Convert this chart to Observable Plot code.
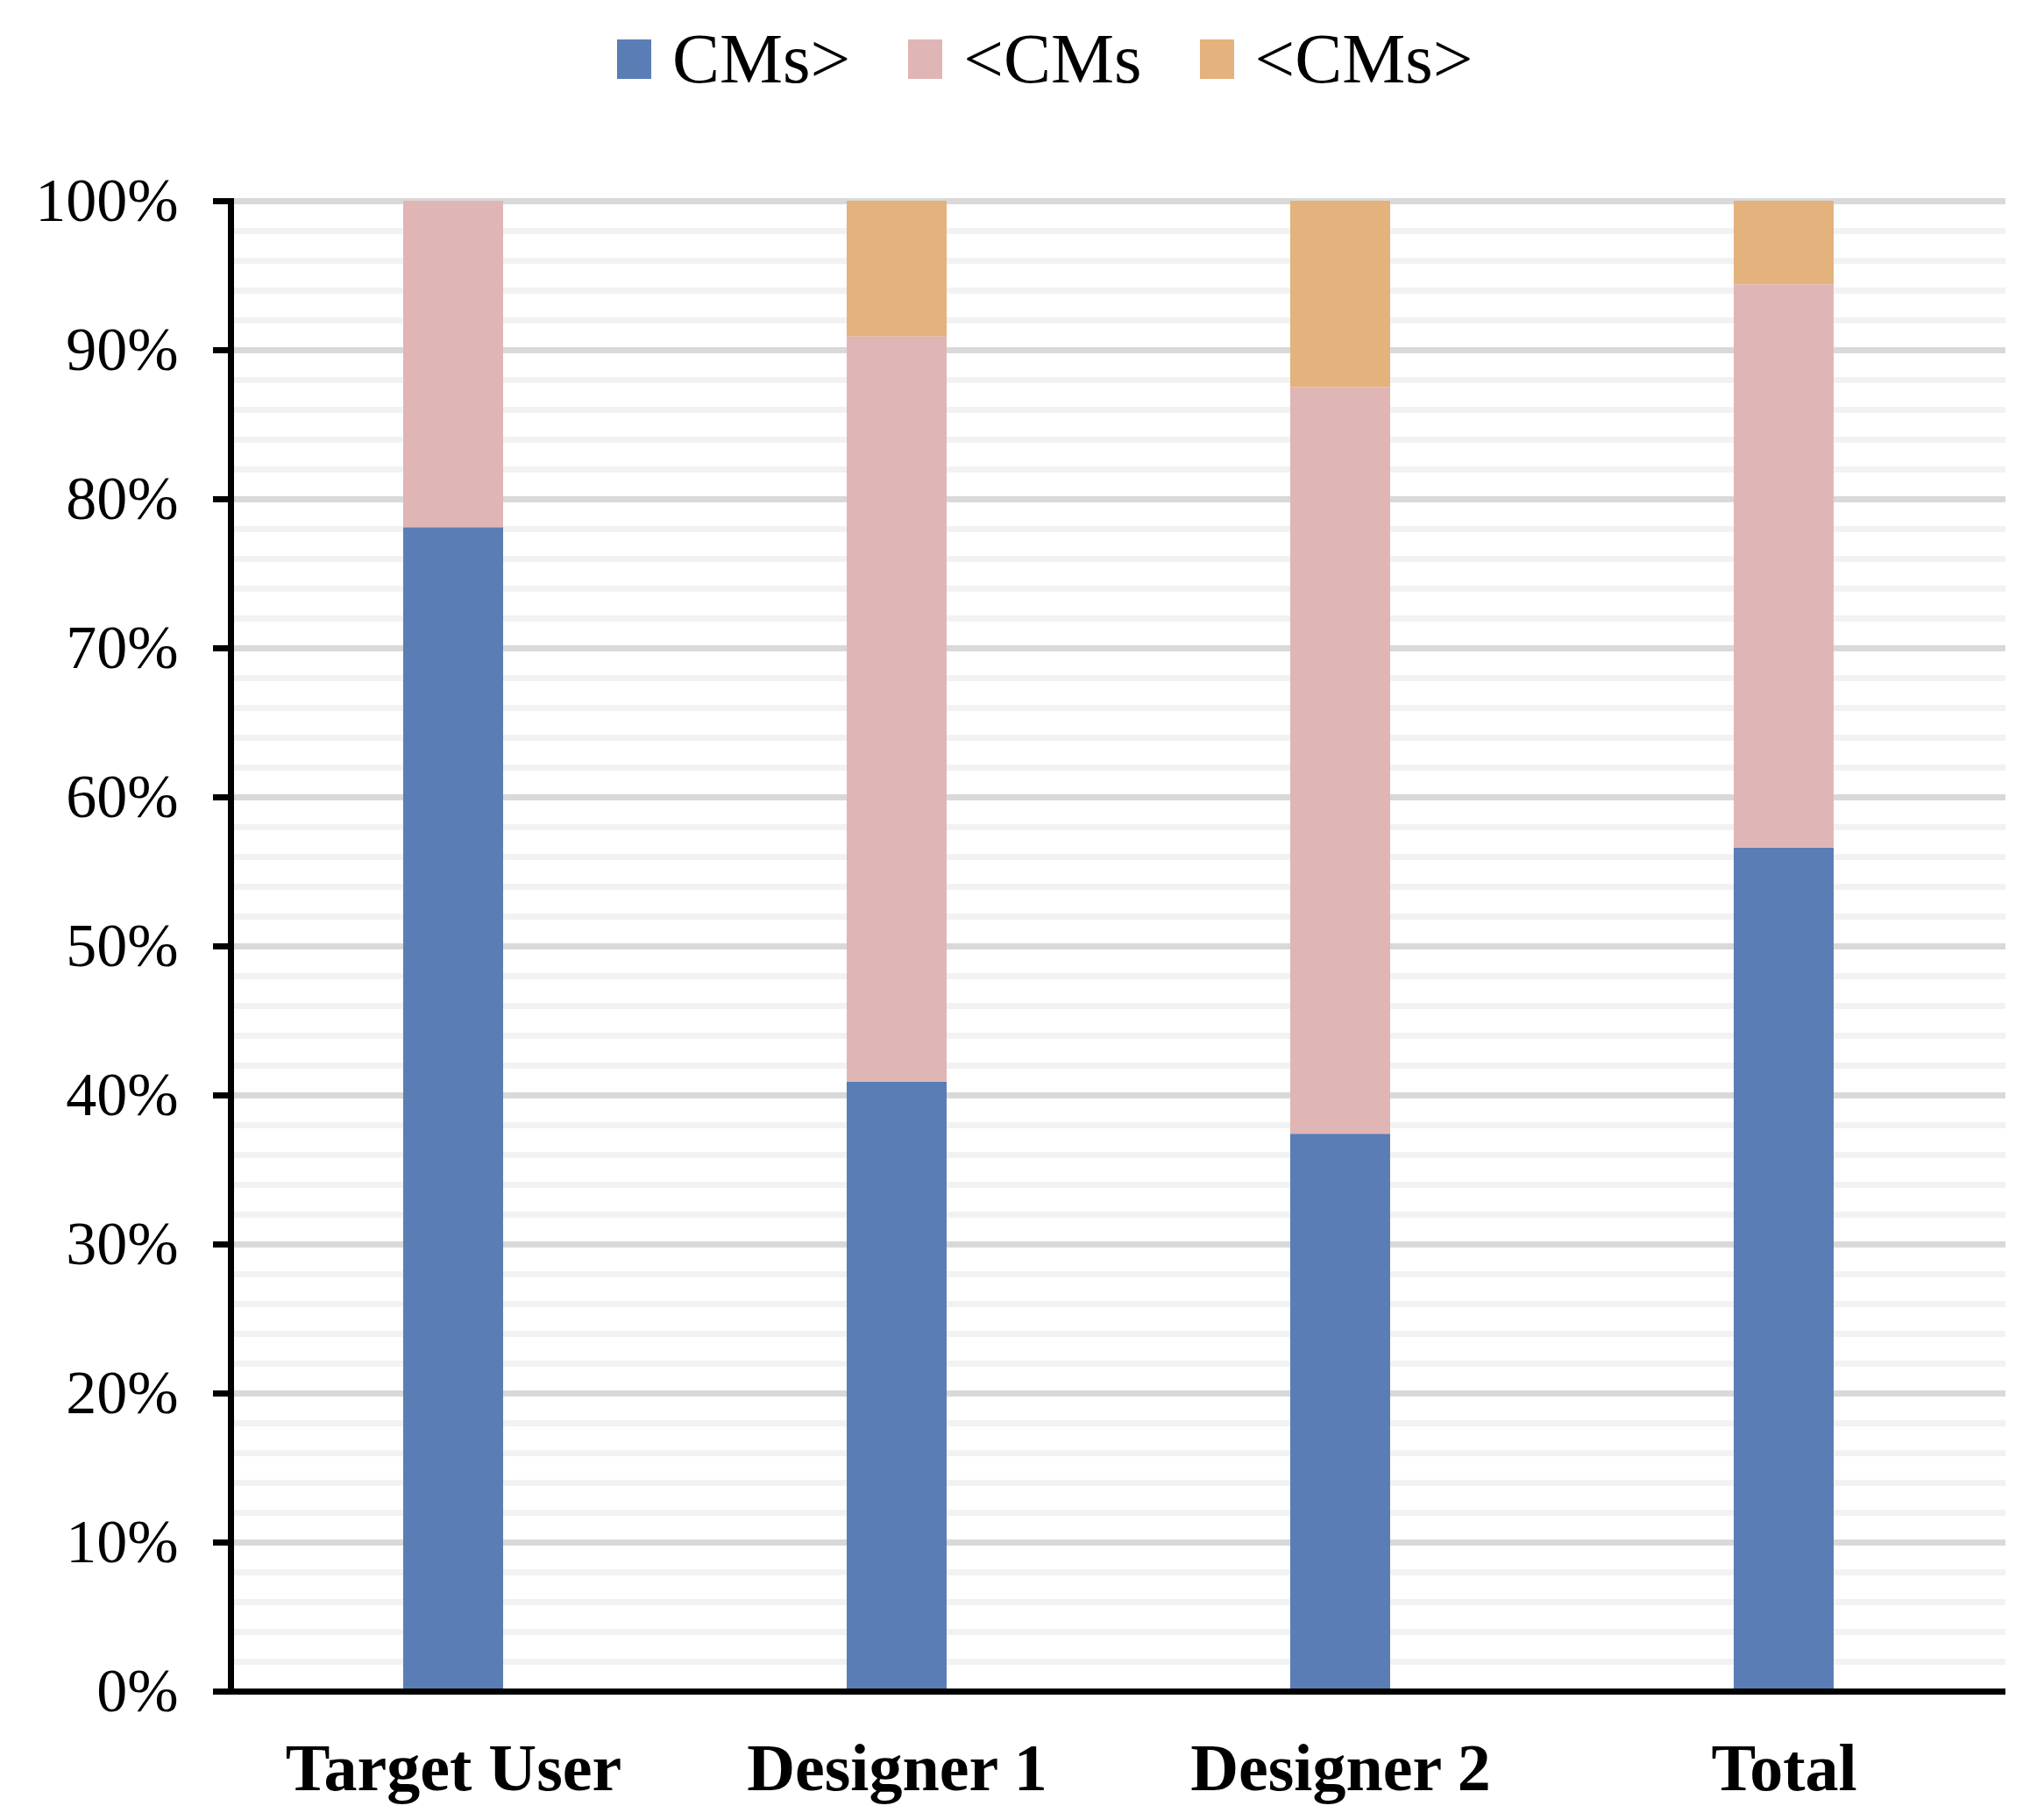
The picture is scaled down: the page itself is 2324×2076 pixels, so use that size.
<!DOCTYPE html>
<html><head><meta charset="utf-8">
<script src="https://cdn.jsdelivr.net/npm/d3@7"></script>
<script src="https://cdn.jsdelivr.net/npm/@observablehq/plot@0.6"></script>
<style>
html,body{margin:0;padding:0;background:#fff;width:2324px;height:2076px;overflow:hidden}
#legend{height:134px;display:flex;align-items:center;padding-left:704px;font-family:"Liberation Serif","Times New Roman",serif;font-size:81px;color:#000}
.item{display:flex;align-items:center;margin-right:66px}
.sw{width:39px;height:45px;margin-right:24px}
</style></head><body>
<div id="legend"></div>
<div id="chart"></div>
<script>
// Data (percent of each category)
const categories = ["Target User", "Designer 1", "Designer 2", "Total"];
const seriesNames = ["CMs>", "<CMs", "<CMs>"];
const seriesColors = ["#5b7db5", "#e0b5b6", "#e3b27d"];
const valuesCMsAfter = [78.1, 40.9, 37.4, 56.6];
const valuesCMsBefore = [21.9, 50.0, 50.1, 37.8];
const valuesCMsBoth = [0, 9.1, 12.5, 5.6];
const yTicks = [0, 10, 20, 30, 40, 50, 60, 70, 80, 90, 100];
const yMinorTicks = [0, 2, 4, 6, 8, 10, 12, 14, 16, 18, 20, 22, 24, 26, 28, 30, 32, 34, 36, 38, 40, 42, 44, 46, 48, 50, 52, 54, 56, 58, 60, 62, 64, 66, 68, 70, 72, 74, 76, 78, 80, 82, 84, 86, 88, 90, 92, 94, 96, 98, 100];

const seriesValues = [valuesCMsAfter, valuesCMsBefore, valuesCMsBoth];
const rows = [];
seriesNames.forEach((s, si) => {
  categories.forEach((c, ci) => rows.push({category: c, series: s, value: seriesValues[si][ci]}));
});

// Legend
const legend = d3.select("#legend");
seriesNames.forEach((s, i) => {
  const it = legend.append("div").attr("class", "item");
  it.append("div").attr("class", "sw").style("background", seriesColors[i]);
  it.append("span").text(s);
});

const chart = Plot.plot({
  width: 2324,
  height: 1942,
  marginTop: 95,
  marginBottom: 147,
  marginLeft: 263,
  marginRight: 36,
  style: {fontFamily: "'Liberation Serif', 'Times New Roman', serif", fontSize: "70px", color: "#000", background: "#fff"},
  x: {domain: categories, paddingInner: 0.775, paddingOuter: 0.3875, label: null},
  y: {domain: [0, 100], label: null},
  color: {domain: seriesNames, range: seriesColors},
  marks: [
    Plot.gridY(yMinorTicks, {stroke: "#f2f2f2", strokeOpacity: 1, strokeWidth: 7}),
    Plot.gridY(yTicks, {stroke: "#d9d9d9", strokeOpacity: 1, strokeWidth: 7}),
    Plot.barY(rows, {x: "category", y: "value", fill: "series", order: seriesNames}),
    Plot.axisY({ticks: yTicks, tickFormat: d => d + "%", tickSize: 20, tickPadding: 40, strokeWidth: 7, stroke: "#000", fill: "#000", fontSize: 70, label: null}),
    Plot.axisX({tickSize: 0, tickPadding: 59, fontSize: 76, fontWeight: "bold", fill: "#000", label: null}),
    Plot.frame({anchor: "left", stroke: "#000", strokeWidth: 7}),
    Plot.ruleY([0], {stroke: "#000", strokeWidth: 7, insetLeft: -20})
  ]
});
document.getElementById("chart").appendChild(chart);
</script>
</body></html>
